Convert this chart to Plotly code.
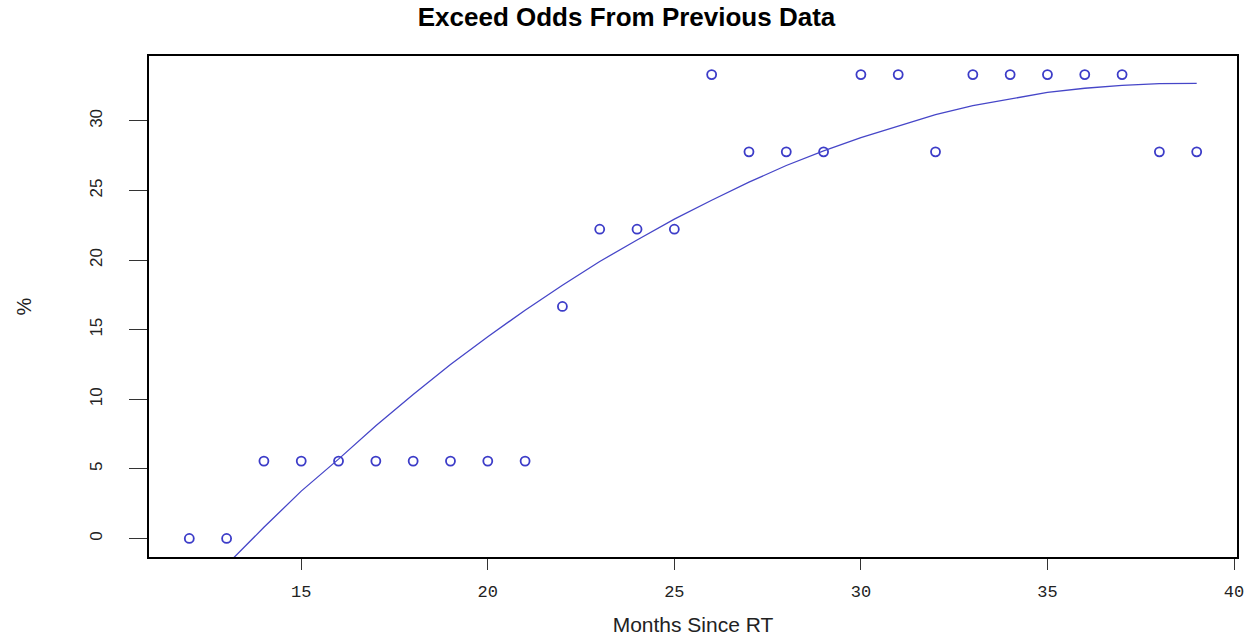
import plotly.graph_objects as go

months = list(range(12, 40))
pct = [0.0, 0.0, 5.56, 5.56, 5.56, 5.56, 5.56, 5.56, 5.56, 5.56,
       16.67, 22.22, 22.22, 22.22, 33.33, 27.78, 27.78, 27.78,
       33.33, 33.33, 27.78, 33.33, 33.33, 33.33, 33.33, 33.33, 27.78, 27.78]
fit = [-4.9, -1.9, 0.8, 3.4, 5.7, 8.1, 10.35, 12.5, 14.5, 16.4,
       18.2, 19.9, 21.45, 22.95, 24.3, 25.6, 26.8, 27.85, 28.8,
       29.65, 30.45, 31.1, 31.6, 32.05, 32.35, 32.55, 32.68, 32.7]

x_ticks = [15, 20, 25, 30, 35, 40]
y_ticks = [0, 5, 10, 15, 20, 25, 30]

blue = "#3c3cc8"

fig = go.Figure()
fig.add_trace(go.Scatter(
    x=months, y=pct, mode="markers",
    marker=dict(symbol="circle-open", size=9, color=blue, line=dict(width=1.8, color=blue)),
    cliponaxis=False, showlegend=False))
fig.add_trace(go.Scatter(
    x=months, y=fit, mode="lines",
    line=dict(color="#4646c8", width=1.3),
    showlegend=False))

fig.update_layout(
    width=1253, height=636,
    margin=dict(l=149, r=16, t=56, b=79),
    paper_bgcolor="white", plot_bgcolor="white",
    font=dict(family="Liberation Sans, Arial, sans-serif", color="#222222"),
    title=dict(text="<b>Exceed Odds From Previous Data</b>", x=0.5, xanchor="center",
               y=0.973, yanchor="middle",
               font=dict(size=26, color="black", family="Liberation Sans, Arial, sans-serif")),
)
fig.update_xaxes(
    range=[10.92, 40.08], tickvals=x_ticks, ticktext=[str(v) for v in x_ticks],
    showgrid=False, zeroline=False, automargin=False,
    showline=True, linecolor="black", linewidth=1.5, mirror=True,
    ticks="outside", ticklen=11, tickwidth=1.2, tickcolor="#333333",
    tickfont=dict(size=17, family="Liberation Mono, DejaVu Sans Mono, monospace", color="#222222"),
    ticklabelstandoff=7,
    title=dict(text="Months Since RT", font=dict(size=21, color="#222222"), standoff=18),
)
fig.update_yaxes(
    range=[-1.333, 34.667], tickvals=y_ticks, ticktext=[str(v) for v in y_ticks],
    showgrid=False, zeroline=False, automargin=False,
    showline=True, linecolor="black", linewidth=1.5, mirror=True,
    ticks="outside", ticklen=18, tickwidth=1.2, tickcolor="#333333",
    tickangle=-90,
    tickfont=dict(size=17, family="Liberation Sans Narrow, Liberation Sans, Arial", color="#222222"),
    ticklabelstandoff=20,
    title=dict(text="%", font=dict(size=20, color="#222222"), standoff=50),
)

fig.write_html("out.html")
